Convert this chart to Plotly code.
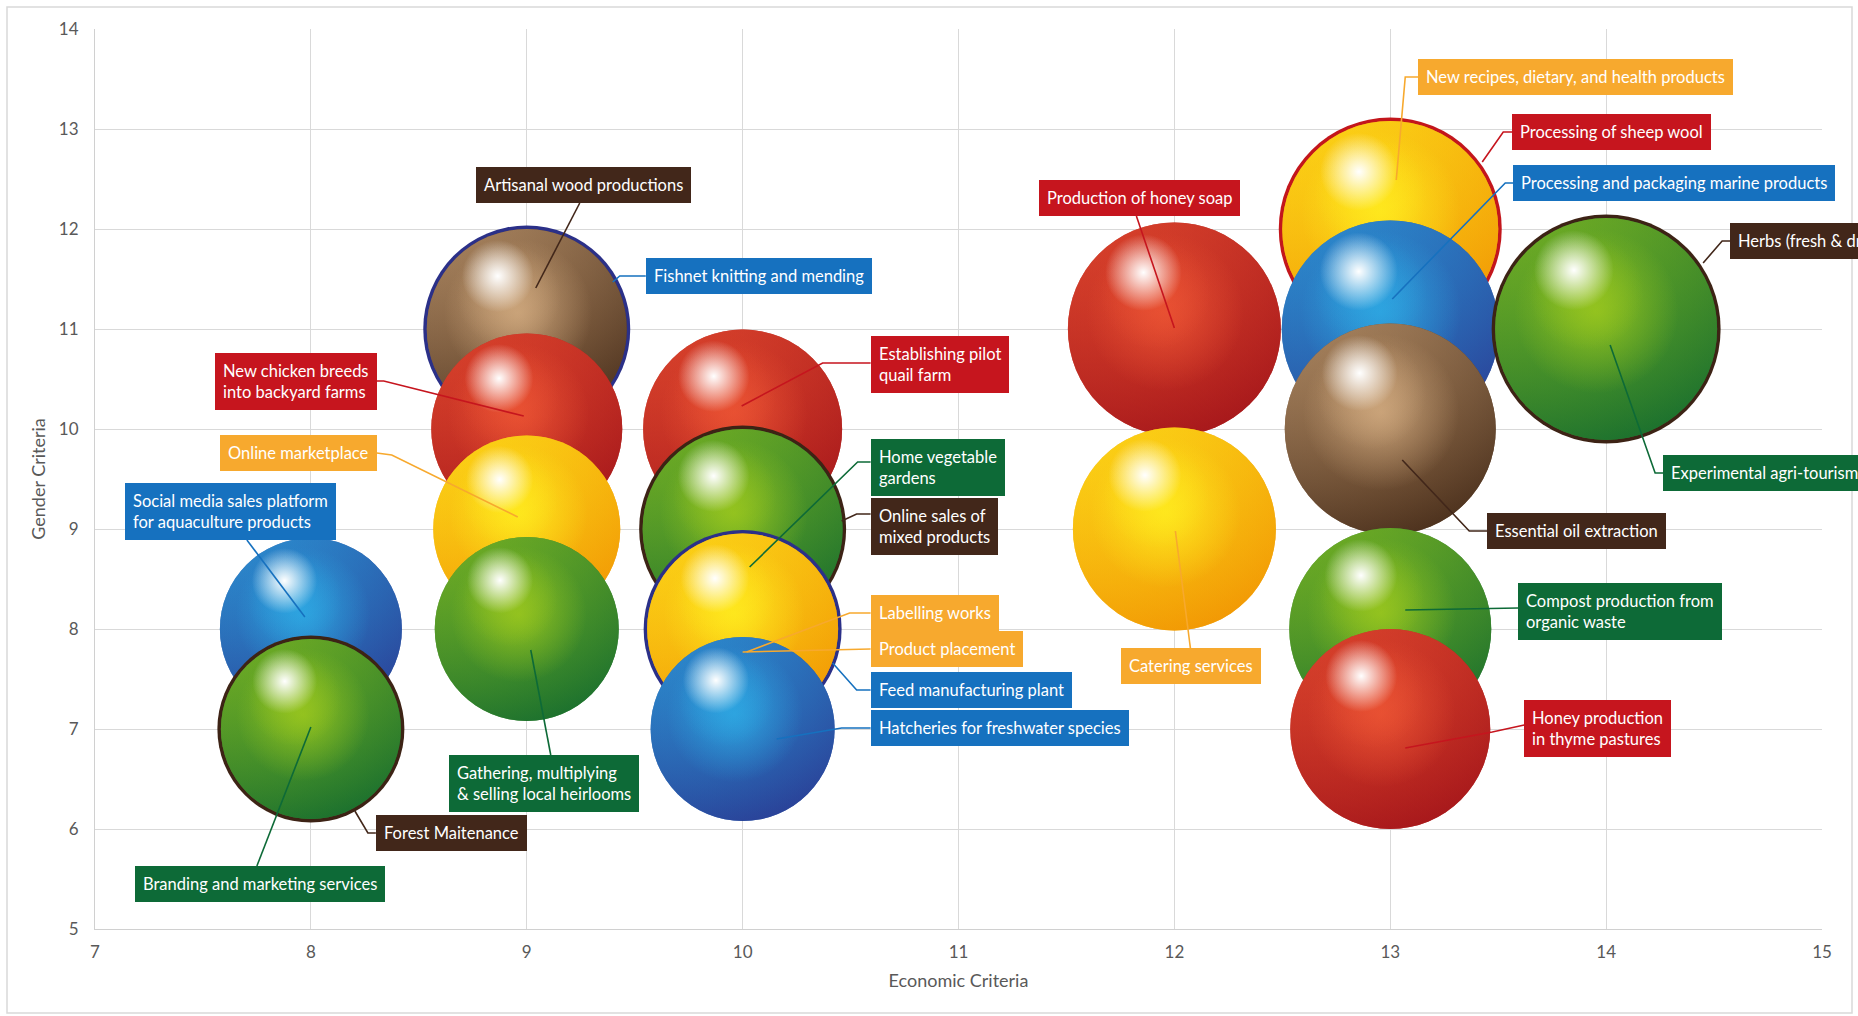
import plotly.graph_objects as go

# ---------------- data ----------------
projects = [
    "Processing of sheep wool",
    "New recipes, dietary, and health products",
    "Fishnet knitting and mending",
    "Artisanal wood productions",
    "Production of honey soap",
    "Processing and packaging marine products",
    "Herbs (fresh & dried)",
    "Experimental agri-tourism",
    "New chicken breeds\ninto backyard farms",
    "Establishing pilot\nquail farm",
    "Essential oil extraction",
    "Online marketplace",
    "Online sales of\nmixed products",
    "Home vegetable\ngardens",
    "Catering services",
    "Social media sales platform\nfor aquaculture products",
    "Gathering, multiplying\n& selling local heirlooms",
    "Feed manufacturing plant",
    "Labelling works",
    "Product placement",
    "Compost production from\norganic waste",
    "Forest Maitenance",
    "Branding and marketing services",
    "Hatcheries for freshwater species",
    "Honey production\nin thyme pastures",
]
economic = [13, 13, 9, 9, 12, 13, 14, 14, 9, 10, 13, 9, 10, 10, 12, 8, 9, 10, 10, 10, 13, 8, 8, 10, 13]
gender = [12, 12, 11, 11, 11, 11, 11, 11, 10, 10, 10, 9, 9, 9, 9, 8, 8, 8, 8, 8, 8, 7, 7, 7, 7]
sector = ["red", "yellow", "blue", "brown", "red", "blue", "brown", "green", "red", "red",
          "brown", "yellow", "brown", "green", "yellow", "blue", "green", "blue", "yellow",
          "yellow", "green", "brown", "green", "blue", "red"]
bubble = [21.6, 21.6, 20.0, 20.0, 21.3, 21.7, 22.2, 22.2, 19.1, 19.9, 21.1, 18.7, 20.0, 20.0,
          20.3, 18.2, 18.4, 19.1, 19.1, 19.1, 20.2, 18.0, 18.0, 18.4, 20.0]

x_title = "Economic Criteria"
y_title = "Gender Criteria"
x_ticks = [7, 8, 9, 10, 11, 12, 13, 14, 15]
y_ticks = [5, 6, 7, 8, 9, 10, 11, 12, 13, 14]

# ---------------- layout constants ----------------
FIG_W, FIG_H = 1858, 1016
M_L, M_R, M_T, M_B = 95, 36, 29, 87
X_RANGE = (7, 15)
Y_RANGE = (5, 14)
PLOT_W = FIG_W - M_L - M_R
PLOT_H = FIG_H - M_T - M_B
PX_X = PLOT_W / (X_RANGE[1] - X_RANGE[0])
PX_Y = PLOT_H / (Y_RANGE[1] - Y_RANGE[0])
SIZE_SCALE = 10  # px of diameter per bubble unit
FONT = "Lato"

def ox(px):
    return px / PX_X

def oy(py):
    return -py / PX_Y

def rgba(c, a):
    return "rgba(%d,%d,%d,%s)" % (round(c[0]), round(c[1]), round(c[2]), a)

def hexrgb(h):
    h = h.lstrip("#")
    return tuple(int(h[i:i + 2], 16) for i in (0, 2, 4))

def mix(a, b, t):
    return tuple(a[k] + (b[k] - a[k]) * t for k in range(3))

sphere = {
    "red":    dict(light=hexrgb("#ec5434"), mid=hexrgb("#d83b22"), dark=hexrgb("#9a0e18")),
    "yellow": dict(light=hexrgb("#ffec1f"), mid=hexrgb("#fcc812"), dark=hexrgb("#ef8a00")),
    "blue":   dict(light=hexrgb("#2eaae4"), mid=hexrgb("#2183cb"), dark=hexrgb("#2b2f8a")),
    "green":  dict(light=hexrgb("#9cc81e"), mid=hexrgb("#44a02b"), dark=hexrgb("#0a6230")),
    "brown":  dict(light=hexrgb("#d2ab80"), mid=hexrgb("#8e6137"), dark=hexrgb("#371f10")),
}
label_color = {"red": "#c6151e", "yellow": "#f7a92e", "blue": "#1671bf",
               "green": "#0d6a37", "brown": "#42271a"}
ring_color = {"red": "#c3161c", "yellow": "#f0a000", "blue": "#2b3088",
              "green": "#0b5e2e", "brown": "#3d2315"}

# label placement: px offsets from bubble centre (y downward)
label_layout = {
    "Processing of sheep wool": ([(92, -67), (113, -97), (122, -97)], (122, -97), "left", "middle"),
    "New recipes, dietary, and health products": ([(6, -49), (15, -152), (28, -152)], (28, -152), "left", "middle"),
    "Fishnet knitting and mending": ([(86, -47), (93, -53), (119, -53)], (119, -53), "left", "middle"),
    "Artisanal wood productions": ([(9, -41), (53, -126)], (57, -126), "center", "bottom"),
    "Production of honey soap": ([(0, -1), (-38, -113)], (-35, -113), "center", "bottom"),
    "Processing and packaging marine products": ([(2, -30), (115, -146), (123, -146)], (123, -146), "left", "middle"),
    "Herbs (fresh & dried)": ([(97, -66), (116, -88), (124, -88)], (124, -88), "left", "middle"),
    "Experimental agri-tourism": ([(4, 16), (49, 144), (57, 144)], (57, 144), "left", "middle"),
    "New chicken breeds\ninto backyard farms": ([(-3, -13), (-143, -48), (-150, -48)], (-150, -48), "right", "middle"),
    "Establishing pilot\nquail farm": ([(-1, -23), (80, -66), (128, -66)], (128, -65), "left", "middle"),
    "Essential oil extraction": ([(12, 31), (79, 102), (97, 102)], (97, 102), "left", "middle"),
    "Online marketplace": ([(-9, -12), (-135, -74), (-150, -76)], (-150, -76), "right", "middle"),
    "Online sales of\nmixed products": ([(99, -8), (114, -15), (128, -15)], (128, -3), "left", "middle"),
    "Home vegetable\ngardens": ([(7, 38), (115, -67), (128, -67)], (128, -62), "left", "middle"),
    "Catering services": ([(1, 2), (16, 119)], (17, 119), "center", "top"),
    "Social media sales platform\nfor aquaculture products": ([(-6, -12), (-64, -89)], (-80, -89), "center", "bottom"),
    "Gathering, multiplying\n& selling local heirlooms": ([(4, 21), (24, 126)], (17, 126), "center", "top"),
    "Feed manufacturing plant": ([(90, 34), (114, 61), (128, 61)], (128, 61), "left", "middle"),
    "Labelling works": ([(4, 23), (107, -16), (128, -16)], (128, -16), "left", "middle"),
    "Product placement": ([(0, 23), (110, 20), (128, 20)], (128, 20), "left", "middle"),
    "Compost production from\norganic waste": ([(15, -19), (128, -21)], (128, -18), "left", "middle"),
    "Forest Maitenance": ([(44, 82), (57, 104), (65, 104)], (65, 104), "left", "middle"),
    "Branding and marketing services": ([(0, -2), (-54, 137)], (-51, 137), "center", "top"),
    "Hatcheries for freshwater species": ([(34, 10), (99, -1), (128, -1)], (128, -1), "left", "middle"),
    "Honey production\nin thyme pastures": ([(15, 19), (102, 3), (134, -4)], (134, -1), "left", "middle"),
}

# ---------------- build figure ----------------
fig = go.Figure()

n = len(projects)
order = sorted(range(n), key=lambda i: (-gender[i], economic[i]))  # stable: back-to-front within a spot

front = {}
for i in order:
    front[(economic[i], gender[i])] = i

for i in order:
    key = (economic[i], gender[i])
    cx, cy = economic[i], gender[i]
    D = bubble[i] * SIZE_SCALE
    r = D / 2.0
    f = front[key]
    if f != i:
        if sector[i] != sector[f]:
            fig.add_trace(go.Scatter(
                x=[cx], y=[cy], mode="markers", hoverinfo="skip", showlegend=False,
                marker=dict(size=D + 7, sizemode="diameter", color=ring_color[sector[i]],
                            line=dict(width=0), opacity=1)))
        continue
    pal = sphere[sector[i]]
    rim = mix(pal["mid"], pal["dark"], 0.55)
    hx, hy = -0.29 * r, -0.53 * r
    xs = [cx, cx, cx, cx + ox(0.3 * hx), cx + ox(0.62 * hx), cx + ox(hx)]
    ys = [cy, cy, cy, cy + oy(0.3 * hy), cy + oy(0.62 * hy), cy + oy(hy)]
    sizes = [D, D, D, 0.74 * D, 0.52 * D, 0.36 * D]
    colors = [rgba(rim, 1), rgba(pal["light"], 0.42), rgba(pal["light"], 0.42),
              rgba(pal["light"], 0), rgba(pal["light"], 0), "rgba(255,255,255,0)"]
    gtypes = ["radial", "horizontal", "vertical", "radial", "radial", "radial"]
    gcolors = [rgba(pal["mid"], 1), rgba(pal["dark"], 0.55), rgba(pal["dark"], 0.55),
               rgba(pal["light"], 0.8), rgba(pal["light"], 0.6), "rgba(255,255,255,1)"]
    fig.add_trace(go.Scatter(
        x=xs, y=ys, mode="markers", hoverinfo="skip", showlegend=False,
        marker=dict(size=sizes, sizemode="diameter", color=colors, opacity=1,
                    line=dict(width=0),
                    gradient=dict(type=gtypes, color=gcolors))))

# connector lines
for i in order:
    pts, tpos, xa, ya = label_layout[projects[i]]
    cx, cy = economic[i], gender[i]
    fig.add_trace(go.Scatter(
        x=[cx + ox(p[0]) for p in pts], y=[cy + oy(p[1]) for p in pts],
        mode="lines", hoverinfo="skip", showlegend=False,
        line=dict(color=label_color[sector[i]], width=1.6)))

# labels
annotations = []
for i in order:
    pts, tpos, xa, ya = label_layout[projects[i]]
    cx, cy = economic[i], gender[i]
    txt = "<br>".join(projects[i].split("\n"))
    annotations.append(dict(
        x=cx + ox(tpos[0]), y=cy + oy(tpos[1]), xref="x", yref="y",
        text=txt, showarrow=False, xanchor=xa, yanchor=ya, align="left",
        font=dict(family=FONT, size=16.5, color="white"),
        bgcolor=label_color[sector[i]], bordercolor=label_color[sector[i]],
        borderwidth=1, borderpad=7))

# outer frame
frame = dict(type="rect", xref="paper", yref="paper",
             x0=(7 - M_L) / PLOT_W, x1=(FIG_W - 6 - M_L) / PLOT_W,
             y0=-(FIG_H - 3 - M_T - PLOT_H) / PLOT_H, y1=(PLOT_H + M_T - 7) / PLOT_H,
             line=dict(color="#d9d9d9", width=1.5), fillcolor="rgba(0,0,0,0)", layer="below")

axis_common = dict(showgrid=True, gridcolor="#d9d9d9", gridwidth=1, zeroline=False,
                   showline=True, linecolor="#d0d0d0", linewidth=1, ticks="",
                   tickfont=dict(family=FONT, size=17, color="#595959"), automargin=False)

fig.update_layout(
    width=FIG_W, height=FIG_H, autosize=False,
    margin=dict(l=M_L, r=M_R, t=M_T, b=M_B, pad=0),
    paper_bgcolor="white", plot_bgcolor="white",
    xaxis=dict(range=list(X_RANGE), tickvals=x_ticks, ticklabelstandoff=8,
               title=dict(text=x_title, font=dict(family=FONT, size=18, color="#595959"), standoff=12),
               **axis_common),
    yaxis=dict(range=list(Y_RANGE), tickvals=y_ticks, ticklabelstandoff=12,
               title=dict(text=y_title, font=dict(family=FONT, size=18, color="#595959"), standoff=8),
               **axis_common),
    annotations=annotations, shapes=[frame],
)

fig.write_html("out.html")
